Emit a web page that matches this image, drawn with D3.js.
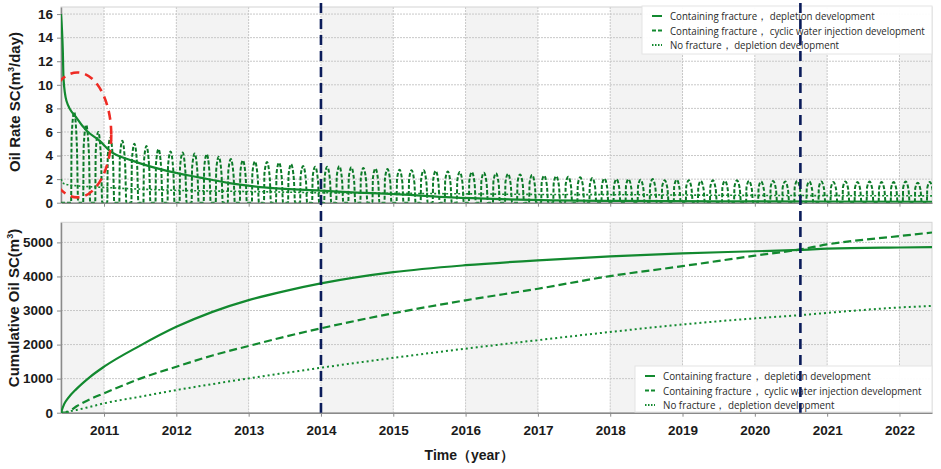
<!DOCTYPE html>
<html>
<head>
<meta charset="utf-8">
<script src="https://cdn.jsdelivr.net/npm/d3@7"></script>
<style>
  body { margin: 0; background: #fff; }
  svg { display: block; }
</style>
</head>
<body>
<script>
// ---- data (time in decimal years) ----
var rateTime      = [2010.405, 2010.43, 2010.44, 2010.48, 2010.62, 2010.76, 2010.94, 2011.08, 2011.40, 2011.87,
                     2012.33, 2012.78, 2013.25, 2013.94, 2014.5, 2015.09, 2015.8, 2016.48, 2017.2, 2018.14,
                     2019.5, 2021, 2022.45];
var depletionRate = [16, 12.9, 10.5, 8.65, 7.2, 6.1, 5.25, 4.4, 3.55, 2.7,
                     2.13, 1.62, 1.28, 1.05, 0.86, 0.71, 0.45, 0.3, 0.2, 0.15,
                     0.12, 0.1, 0.08];

var noFracTime = [2010.405, 2010.45, 2010.6, 2011, 2011.5, 2012, 2013, 2014, 2015, 2016, 2017, 2018, 2019, 2020, 2021, 2022.45];
var noFracRate = [2.0, 1.6, 1.45, 1.3, 1.15, 1.05, 0.95, 0.85, 0.8, 0.75, 0.7, 0.68, 0.65, 0.62, 0.6, 0.58];

// cyclic injection: one peak every two months
var cycleStart = 2010.545;
var cycleLen = 1 / 6;
var cyclicPeaks = [7.7, 6.6, 6.0, 5.5, 5.25, 5.0, 4.8, 4.55, 4.35, 4.25,
                   4.17, 4.12, 3.9, 3.7, 3.6, 3.5, 3.45, 3.4, 3.27, 3.12,
                   3.05, 3.05, 3.1, 3.0, 2.95, 2.9, 2.85, 2.8, 2.75, 2.75,
                   2.7, 2.65, 2.6, 2.6, 2.55, 2.5, 2.45, 2.4, 2.35, 2.3,
                   2.25, 2.2, 2.15, 2.1, 2.05, 2.0, 2.0, 1.95, 2.0, 1.9,
                   1.95, 1.9, 1.85, 1.9, 1.85, 1.9, 1.85, 1.8, 1.85, 1.8,
                   1.85, 1.8, 1.8, 1.75, 1.8, 1.75, 1.8, 1.75, 1.75, 1.8,
                   1.7, 1.75];
// shape of one cycle: [fraction of cycle, fraction of peak]
var cycleShape = [[0, 0], [0.04, 0.72], [0.25, 1], [0.48, 0.62], [0.58, 0], [1, 0]];

var cumTime      = [2010.405, 2010.45, 2010.5, 2010.62, 2010.8, 2011, 2011.5, 2012, 2012.5, 2013, 2013.5, 2014,
                    2015, 2016, 2017, 2018, 2019, 2020, 2020.63, 2021, 2022, 2022.45];
var cumDepletion = [0, 260, 420, 700, 1040, 1350, 1970, 2520, 2960, 3305, 3570, 3795,
                    4126, 4330, 4475, 4590, 4680, 4740, 4780, 4815, 4850, 4860];
var cumCyclic    = [0, 5, 20, 190, 390, 570, 1000, 1350, 1680, 1960, 2230, 2477,
                    2920, 3300, 3640, 4011, 4304, 4610, 4794, 4940, 5185, 5290];
var cumNoFrac    = [0, 15, 35, 80, 170, 275, 470, 665, 840, 1008, 1165, 1320,
                    1610, 1880, 2130, 2370, 2590, 2770, 2865, 2930, 3090, 3135];

var yearTicks = [2011, 2012, 2013, 2014, 2015, 2016, 2017, 2018, 2019, 2020, 2021, 2022];
var rateTicks = [0, 2, 4, 6, 8, 10, 12, 14, 16];
var cumTicks = [0, 1000, 2000, 3000, 4000, 5000];
var markerYears = [2014, 2020.63];
var seriesNames = ["Containing fracture\uFF0C depletion development",
                   "Containing fracture\uFF0C  cyclic water injection development",
                   "No fracture\uFF0C  depletion development"];

// ---- layout ----
var W = 941, H = 469;
var left = 61, right = 932;
var green = "#12892f";

var svg = d3.select("body").append("svg")
  .attr("width", W)
  .attr("height", H);

var x = d3.scaleLinear().domain([2010.405, 2022.45]).range([left, right]);
var yRate = d3.scaleLinear().domain([0, 16.6]).range([202.7, 7]);
var yCum = d3.scaleLinear().domain([0, 5590]).range([412.7, 222.3]);

function panel(name, y, ticks) {
  var g = svg.append("g");
  var y0 = y.range()[0], y1 = y.range()[1];

  g.append("clipPath").attr("id", "clip-" + name)
    .append("rect").attr("x", left).attr("y", y1).attr("width", right - left).attr("height", y0 - y1);

  // alternating year bands
  var edges = [x.domain()[0]].concat(yearTicks, [x.domain()[1]]);
  var bands = [];
  for (var i = 0; i < edges.length - 1; i += 2) bands.push([edges[i], edges[i + 1]]);
  g.selectAll("rect.band")
    .data(bands)
    .enter()
    .append("rect")
    .attr("class", "band")
    .attr("x", function(d) { return x(d[0]); })
    .attr("y", y1)
    .attr("width", function(d) { return x(d[1]) - x(d[0]); })
    .attr("height", y0 - y1)
    .attr("fill", "#f3f3f3");

  // grid
  g.selectAll("line.hgrid")
    .data(ticks.slice(1))
    .enter()
    .append("line")
    .attr("x1", left).attr("x2", right)
    .attr("y1", function(d) { return y(d); })
    .attr("y2", function(d) { return y(d); })
    .attr("stroke", "#c8c8c8")
    .attr("stroke-dasharray", "2,1");
  g.selectAll("line.vgrid")
    .data(yearTicks)
    .enter()
    .append("line")
    .attr("x1", function(d) { return x(d); })
    .attr("x2", function(d) { return x(d); })
    .attr("y1", y1).attr("y2", y0)
    .attr("stroke", "#c8c8c8")
    .attr("stroke-dasharray", "2,1");

  g.append("rect")
    .attr("x", left).attr("y", y1)
    .attr("width", right - left).attr("height", y0 - y1)
    .attr("fill", "none")
    .attr("stroke", "#d4d4d4");

  // axes
  var xa = g.append("g")
    .attr("transform", "translate(0," + y0 + ")")
    .call(d3.axisBottom(x).tickValues(yearTicks).tickSize(4).tickSizeOuter(0)
      .tickFormat(name === "cum" ? d3.format("d") : ""));
  var ya = g.append("g")
    .attr("transform", "translate(" + left + ",0)")
    .call(d3.axisLeft(y).tickValues(ticks).tickSize(4).tickSizeOuter(0).tickFormat(d3.format("d")));

  [xa, ya].forEach(function(a) {
    a.select(".domain").attr("stroke", "#8a8a8a").attr("stroke-width", 1.5);
    a.selectAll(".tick line").attr("stroke", "#8a8a8a");
    a.selectAll("text")
      .attr("font-family", "'Liberation Sans', Arial, sans-serif")
      .attr("font-weight", "bold")
      .attr("font-size", "13.5px")
      .attr("fill", "#1a1a1a");
  });
  ya.selectAll("text").attr("x", -8);
  xa.selectAll("text").attr("y", 13);

  return g.append("g").attr("clip-path", "url(#clip-" + name + ")");
}

var rateG = panel("rate", yRate, rateTicks);
var cumG = panel("cum", yCum, cumTicks);

// ---- top: oil rate ----
var rateLine = d3.line()
  .x(function(d) { return x(d[0]); })
  .y(function(d) { return yRate(d[1]); })
  .curve(d3.curveMonotoneX);

var cyclicPts = [[x.domain()[0], 0]];
cyclicPeaks.forEach(function(p, i) {
  var t0 = cycleStart + i * cycleLen;
  cycleShape.forEach(function(s, j) {
    if (i > 0 && j === 0) return;
    cyclicPts.push([t0 + s[0] * cycleLen, s[1] * p]);
  });
});

var rateSeries = [cyclicPts, d3.zip(noFracTime, noFracRate), d3.zip(rateTime, depletionRate)];
rateG.selectAll("path.rate")
  .data(rateSeries)
  .enter()
  .append("path")
  .attr("d", rateLine)
  .attr("fill", "none")
  .attr("stroke", function(d, i) { return i === 0 ? "#0c7a28" : green; })
  .attr("stroke-width", function(d, i) { return [2, 1.6, 2.2][i]; })
  .attr("stroke-dasharray", function(d, i) { return ["4,2", "2,2", null][i]; });

// red dashed ellipse annotation
var ell = { t: 2010.63, v: 5.75, dt: 0.47, dv: 5.3 };
rateG.append("ellipse")
  .attr("cx", x(ell.t))
  .attr("cy", yRate(ell.v))
  .attr("rx", x(ell.t + ell.dt) - x(ell.t))
  .attr("ry", yRate(0) - yRate(ell.dv))
  .attr("fill", "none")
  .attr("stroke", "#ee2b24")
  .attr("stroke-width", 2.6)
  .attr("stroke-dasharray", "9,6");

// ---- bottom: cumulative oil ----
var cumLine = d3.line()
  .x(function(d) { return x(d[0]); })
  .y(function(d) { return yCum(d[1]); })
  .curve(d3.curveMonotoneX);

cumG.selectAll("path.cum")
  .data([cumDepletion, cumCyclic, cumNoFrac])
  .enter()
  .append("path")
  .attr("d", function(d) { return cumLine(d3.zip(cumTime, d)); })
  .attr("fill", "none")
  .attr("stroke", green)
  .attr("stroke-width", function(d, i) { return [2.2, 2.2, 2][i]; })
  .attr("stroke-dasharray", function(d, i) { return [null, "8,4", "2,3"][i]; });

// ---- legends ----
function legend(x0, y0, w, h, textW) {
  var g = svg.append("g").attr("transform", "translate(" + x0 + "," + y0 + ")");
  g.append("rect").attr("width", w).attr("height", h)
    .attr("fill", "#fff").attr("fill-opacity", 0.95)
    .attr("stroke", "#e4e4e4");
  var row = g.selectAll("g.row")
    .data(seriesNames)
    .enter()
    .append("g")
    .attr("transform", function(d, i) { return "translate(0," + (10 + i * 14.5) + ")"; });
  row.append("line")
    .attr("x1", 10).attr("x2", 20)
    .attr("stroke", green)
    .attr("stroke-width", 2)
    .attr("stroke-dasharray", function(d, i) { return [null, "4,2", "1.5,1.5"][i]; });
  var txt = row.append("text")
    .attr("dy", "0.35em")
    .attr("font-family", "'Open Sans', 'Noto Sans', sans-serif")
    .attr("font-size", "11.5px")
    .attr("fill", "#2a2a2a")
    .text(function(d) { return d; });
  // squeeze the text horizontally so the longest entry fits like in the picture
  var widest = d3.max(txt.nodes(), function(n) { return n.getComputedTextLength(); });
  txt.attr("transform", "translate(28,0) scale(" + (textW / widest).toFixed(3) + ",1)");
}
legend(642, 6, 290, 48, 255);
legend(635, 366, 297, 46, 259);

// ---- vertical marker lines ----
svg.selectAll("line.marker")
  .data(markerYears)
  .enter()
  .append("line")
  .attr("x1", function(d) { return x(d); })
  .attr("x2", function(d) { return x(d); })
  .attr("y1", 3)
  .attr("y2", yCum(0))
  .attr("stroke", "#0b1c5a")
  .attr("stroke-width", 2.6)
  .attr("stroke-dasharray", "10,6");

// ---- titles ----
function ytitle(cx, cy, label, tail) {
  var t = svg.append("text")
    .attr("transform", "translate(" + cx + "," + cy + ") rotate(-90)")
    .attr("text-anchor", "middle")
    .attr("font-family", "'Liberation Sans', Arial, sans-serif")
    .attr("font-weight", "bold")
    .attr("font-size", "15px")
    .attr("fill", "#1a1a1a");
  t.append("tspan").text(label);
  t.append("tspan").attr("font-size", "9px").attr("dy", -6).text("3");
  t.append("tspan").attr("dy", 6).text(tail);
}
ytitle(20, 102, "Oil Rate SC(m", "/day)");
ytitle(19, 308, "Cumulative Oil SC(m", ")");

svg.append("text")
  .attr("x", x(2016.05))
  .attr("y", 460)
  .attr("text-anchor", "middle")
  .attr("font-family", "'Liberation Sans', Arial, sans-serif")
  .attr("font-weight", "bold")
  .attr("font-size", "14px")
  .attr("fill", "#1a1a1a")
  .text("Time\uFF08year\uFF09");
</script>
</body>
</html>
